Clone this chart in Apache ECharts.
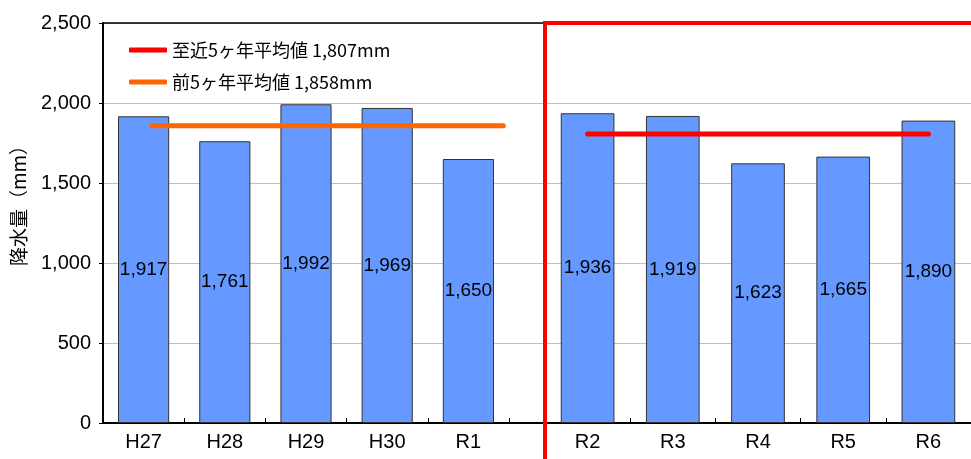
<!DOCTYPE html>
<html style="height: 100%">
<head>
<meta charset="utf-8">
<style type="text/css">
* { margin: 0; padding: 0; }
</style>
</head>
<body style="height: 100%; margin: 0; background: #fff">
<div id="main" style="width: 971px; height: 459px"></div>
<script type="text/javascript" src="https://cdn.jsdelivr.net/npm/echarts@6/dist/echarts.min.js"></script>
<script type="text/javascript">
// data
var yearsBefore = ['H27', 'H28', 'H29', 'H30', 'R1'];
var rainBefore = [1917, 1761, 1992, 1969, 1650];
var yearsRecent = ['R2', 'R3', 'R4', 'R5', 'R6'];
var rainRecent = [1936, 1919, 1623, 1665, 1890];
var yTicks = [0, 500, 1000, 1500, 2000, 2500];
var avgBeforeName = '前5ヶ年平均値 1,858mm';
var avgBefore = 1858;
var avgBeforeSpan = [0.1, 4.43];   // category units, as drawn
var avgRecentName = '至近5ヶ年平均値 1,807mm';
var avgRecent = 1807;
var avgRecentSpan = [0, 4];

// layout
var L = 103, T = 23, H = 400;
var wA = 406;           // left block, 5 bars
var xB = 545, wB = 435; // right block, 5 bars
var W = 971;

var numFont = "'Liberation Sans', Arial, 'Noto Sans CJK JP', sans-serif";
var jpFont = "'Noto Sans CJK JP', sans-serif";

var myChart = echarts.init(document.getElementById('main'), null, { renderer: 'canvas' });

function catAxis(grid, cats) {
    return {
        type: 'category', gridIndex: grid, data: cats,
        axisLine: { show: false },
        axisTick: { show: true, inside: true, length: 5, lineStyle: { color: '#000', width: 1 } },
        axisLabel: { color: '#000', fontSize: 20, fontFamily: numFont, margin: 9 }
    };
}
function hiddenY(grid) {
    return { type: 'value', gridIndex: grid, min: 0, max: 2500, interval: 500, show: false };
}
function hiddenX(grid) {
    return { type: 'value', gridIndex: grid, min: -0.5, max: 4.5, show: false };
}
function barSeries(x, y, vals) {
    return {
        type: 'bar', xAxisIndex: x, yAxisIndex: y, data: vals, barWidth: '63%',
        itemStyle: { color: '#6699FF', borderColor: '#333', borderWidth: 1 },
        label: {
            show: true, position: 'inside', color: '#000', fontSize: 19, fontFamily: numFont,
            formatter: function (p) { return p.value.toLocaleString('en-US'); }
        },
        z: 3
    };
}

var option = {
    backgroundColor: '#fff',
    animation: false,
    grid: [
        { left: L, top: T, width: wA, height: H },
        { left: xB, top: T, width: wB, height: H },
        { left: L, top: T, width: xB + wB - L, height: H }
    ],
    xAxis: [
        catAxis(0, yearsBefore),
        catAxis(1, yearsRecent),
        { type: 'value', gridIndex: 2, position: 'bottom', show: true,
          axisLine: { show: true, lineStyle: { color: '#000', width: 2 } },
          axisTick: { show: false }, axisLabel: { show: false }, splitLine: { show: false } },
        { type: 'value', gridIndex: 2, position: 'top', show: true,
          axisLine: { show: true, lineStyle: { color: '#000', width: 1.5 } },
          axisTick: { show: false }, axisLabel: { show: false }, splitLine: { show: false } },
        hiddenX(0),
        hiddenX(1)
    ],
    yAxis: [
        hiddenY(0),
        hiddenY(1),
        {
            type: 'value', gridIndex: 2, min: yTicks[0], max: yTicks[yTicks.length - 1], interval: 500,
            name: '降水量（mm）', nameLocation: 'middle', nameGap: 75, nameRotate: 90,
            nameTextStyle: { color: '#000', fontSize: 19, fontFamily: jpFont, padding: [0, 0, 0, 44] },
            axisLine: { show: true, lineStyle: { color: '#000', width: 2 } },
            axisTick: { show: true, length: 4, lineStyle: { color: '#000' } },
            axisLabel: {
                color: '#000', fontSize: 20, fontFamily: numFont, margin: 12,
                formatter: function (v) { return v.toLocaleString('en-US'); }
            },
            splitLine: { show: true, lineStyle: { color: '#BFBFBF', width: 1 } }
        }
    ],
    legend: {
        orient: 'vertical', left: 124, top: 36, itemGap: 14,
        itemWidth: 38, itemHeight: 5, icon: 'roundRect',
        textStyle: { color: '#000', fontSize: 18, fontFamily: jpFont },
        data: [avgRecentName, avgBeforeName]
    },
    series: [
        barSeries(0, 0, rainBefore),
        barSeries(1, 1, rainRecent),
        {
            name: avgBeforeName, type: 'line', xAxisIndex: 4, yAxisIndex: 0,
            data: [[avgBeforeSpan[0], avgBefore], [avgBeforeSpan[1], avgBefore]],
            symbol: 'none', color: '#FF6600',
            lineStyle: { color: '#FF6600', width: 5, cap: 'round' }, z: 5
        },
        {
            name: avgRecentName, type: 'line', xAxisIndex: 5, yAxisIndex: 1,
            data: [[avgRecentSpan[0], avgRecent], [avgRecentSpan[1], avgRecent]],
            symbol: 'none', color: '#FF0000',
            lineStyle: { color: '#FF0000', width: 5, cap: 'round' }, z: 5
        }
    ],
    graphic: [{
        type: 'polyline', z: 100,
        shape: { points: [[xB, 459], [xB, T], [W, T]] },
        style: { stroke: '#FF0000', lineWidth: 4, fill: null }
    }]
};

myChart.setOption(option);
</script>
</body>
</html>
